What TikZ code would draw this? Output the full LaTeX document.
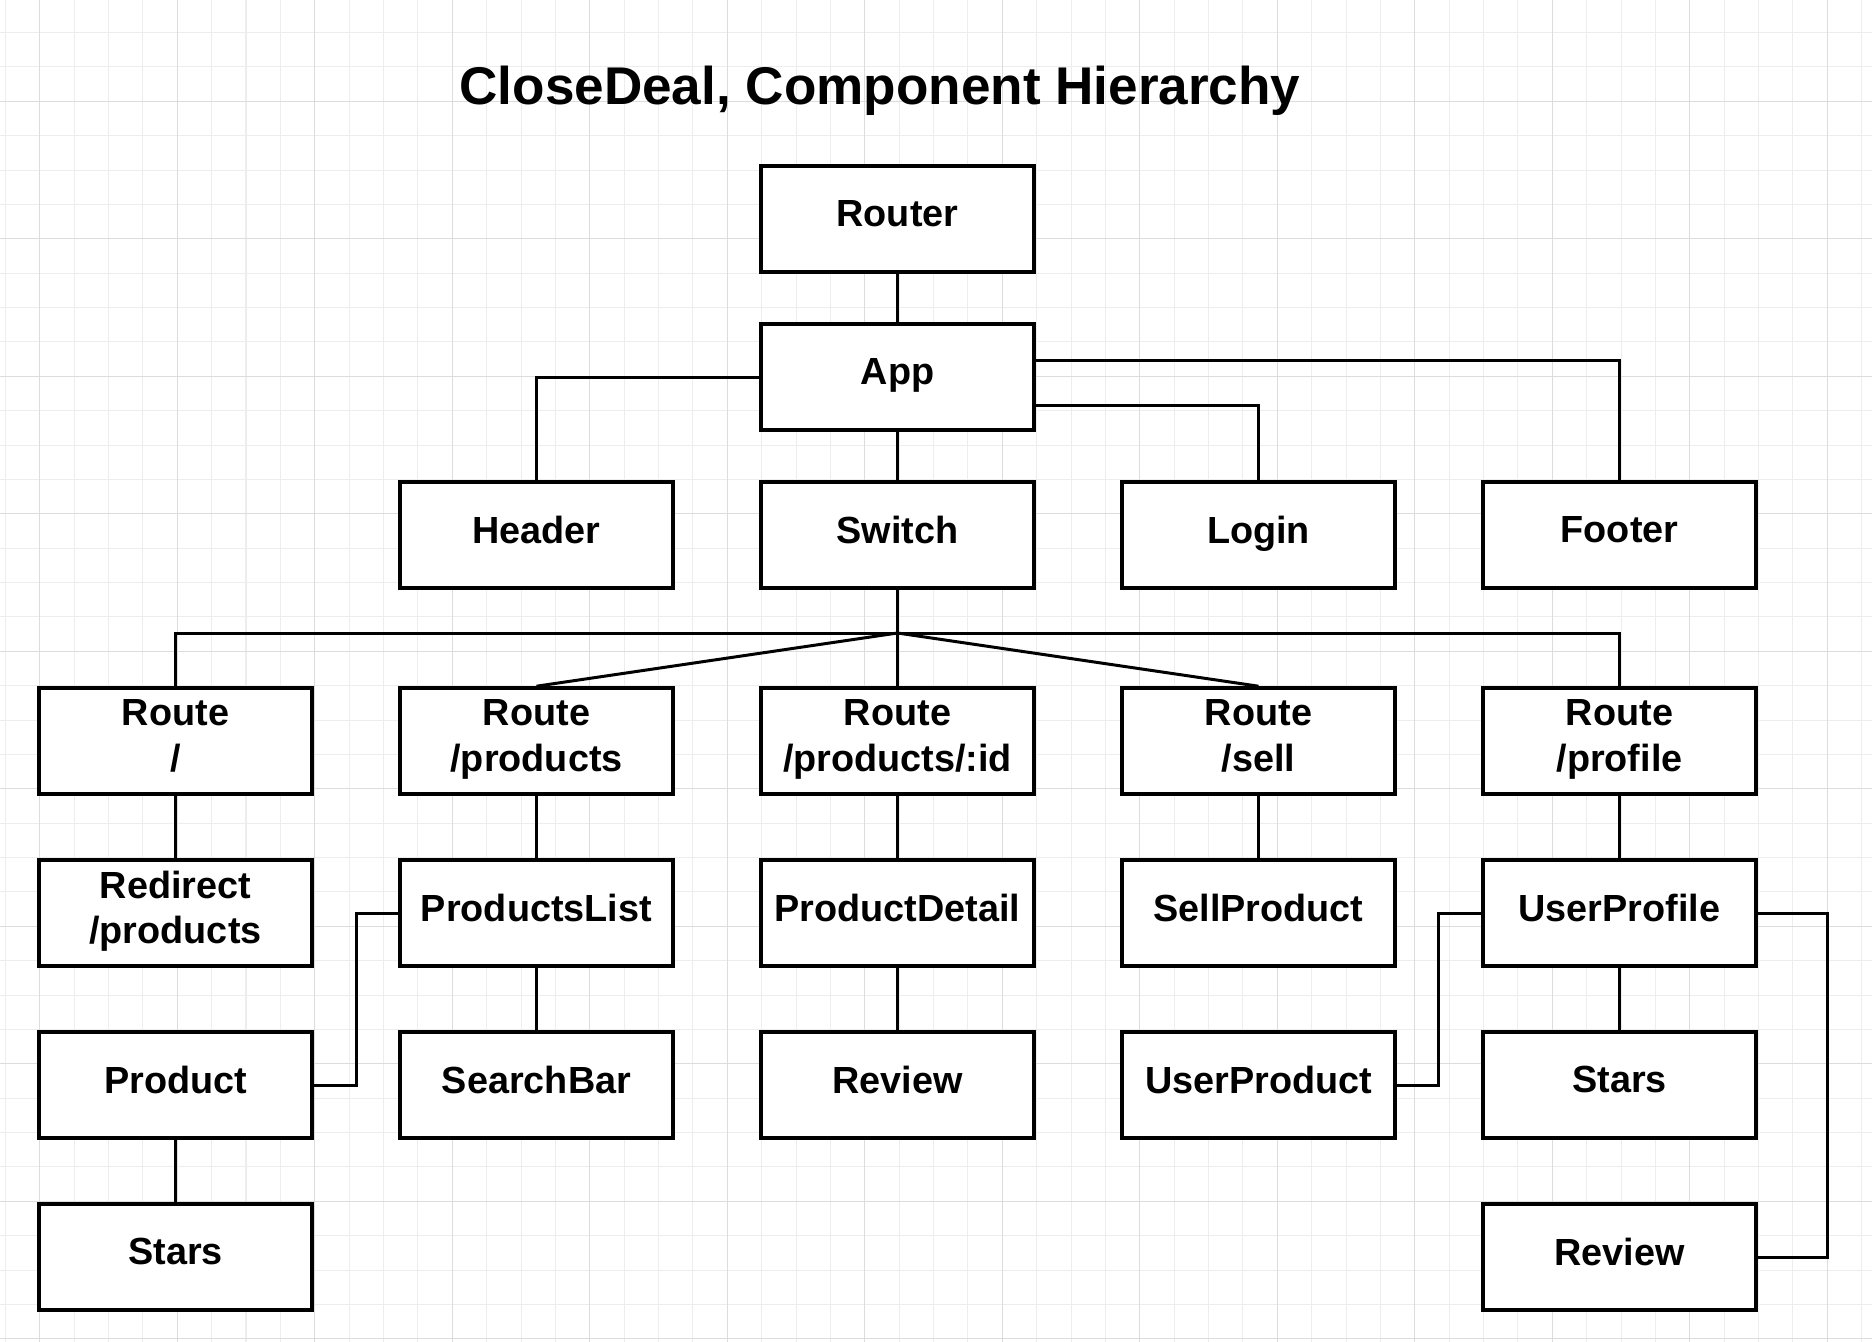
\documentclass[tikz,border=0pt]{standalone}
\usepackage{fontspec}
\setmainfont{Liberation Sans}
\usepackage{tikz}
\usetikzlibrary{calc, positioning}
\definecolor{gridminor}{HTML}{EDEDED}
\definecolor{gridmajor}{HTML}{DCDCDC}
\tikzset{
  comp/.style={draw, line width=0.95pt, fill=white, minimum width=2.727cm, minimum height=1.062cm,
    inner sep=0pt, align=center, font=\bfseries\fontsize{10.75pt}{12.9pt}\selectfont,
    execute at end node={\rule[-0.11cm]{0pt}{0.11cm}}},
  wire/.style={line width=0.85pt},
}

\begin{document}
\begin{tikzpicture}[x=0.01cm, y=-0.01cm]
        \useasboundingbox[fill=white] (0,0) rectangle (1872,1342);
        %griglia
        \foreach \i in {0,...,54} \draw[gridminor, line width=0.3pt] ({5.4+34.375*\i},0)--++ (0,1342);
        \foreach \j in {0,...,38} \draw[gridminor, line width=0.3pt] (0,{32.55+34.375*\j})--++ (1872,0);
        \foreach \i in {0,...,13} \draw[gridmajor, line width=0.3pt] ({39.8+137.5*\i},0)--++ (0,1342);
        \foreach \j in {0,...,9} \draw[gridmajor, line width=0.3pt] (0,{101.3+137.5*\j})--++ (1872,0);

        %titolo
        \node (title) at (880,104) [anchor=base, font=\bfseries\fontsize{15.1pt}{18pt}\selectfont]{CloseDeal, Component Hierarchy};

        %router e app
        \node (router) at (897.5,219) [comp]{Router};
        \node (app) at (897.5,377) [comp]{App};
        %secondo livello
        \node (header) at (536.5,535) [comp]{Header};
        \node (switch) at (897.5,535) [comp]{Switch};
        \node (login) at (1258.5,535) [comp]{Login};
        \node (footer) at (1619.5,535) [comp]{Footer};
        %route
        \node (rroot) at (175.5,741) [comp]{Route\\/};
        \node (rprod) at (536.5,741) [comp]{Route\\/products};
        \node (rdetail) at (897.5,741) [comp]{Route\\/products/:id};
        \node (rsell) at (1258.5,741) [comp]{Route\\/sell};
        \node (rprofile) at (1619.5,741) [comp]{Route\\/profile};
        %componenti
        \node (redirect) at (175.5,913) [comp]{Redirect\\/products};
        \node (plist) at (536.5,913) [comp]{ProductsList};
        \node (pdetail) at (897.5,913) [comp]{ProductDetail};
        \node (sellprod) at (1258.5,913) [comp]{SellProduct};
        \node (uprofile) at (1619.5,913) [comp]{UserProfile};
        %----
        \node (product) at (175.5,1085) [comp]{Product};
        \node (search) at (536.5,1085) [comp]{SearchBar};
        \node (review) at (897.5,1085) [comp]{Review};
        \node (uproduct) at (1258.5,1085) [comp]{UserProduct};
        \node (ustars) at (1619.5,1085) [comp]{Stars};
        %----
        \node (stars) at (175.5,1257) [comp]{Stars};
        \node (ureview) at (1619.5,1257) [comp]{Review};

        %collegamenti
        \draw[wire] (router)--(app);
        \draw[wire] (app.west) -| (header.north);
        \draw[wire] ($(app.east)+(0,-17)$) -| (footer.north);
        \draw[wire] ($(app.east)+(0,28)$) -| (login.north);
        \draw[wire] (app)--(switch);
        %smistamento route
        \coordinate (hub) at (897.5,633);
        \draw[wire] (switch)--(hub);
        \draw[wire] (rroot.north) |- (hub) -| (rprofile.north);
        \draw[wire] (hub)--(rprod.north);
        \draw[wire] (hub)--(rdetail);
        \draw[wire] (hub)--(rsell.north);
        %verticali
        \draw[wire] (rroot)--(redirect);
        \draw[wire] (rprod)--(plist);
        \draw[wire] (plist)--(search);
        \draw[wire] (rdetail)--(pdetail);
        \draw[wire] (pdetail)--(review);
        \draw[wire] (rsell)--(sellprod);
        \draw[wire] (rprofile)--(uprofile);
        \draw[wire] (uprofile)--(ustars);
        \draw[wire] (product)--(stars);
        %gomiti
        \draw[wire] (plist.west)--++ (-41.5,0) |- (product.east);
        \draw[wire] (uprofile.west)--++ (-42.5,0) |- (uproduct.east);
        \draw[wire] (uprofile.east)--++ (70,0) |- (ureview.east);
\end{tikzpicture}
\end{document}
